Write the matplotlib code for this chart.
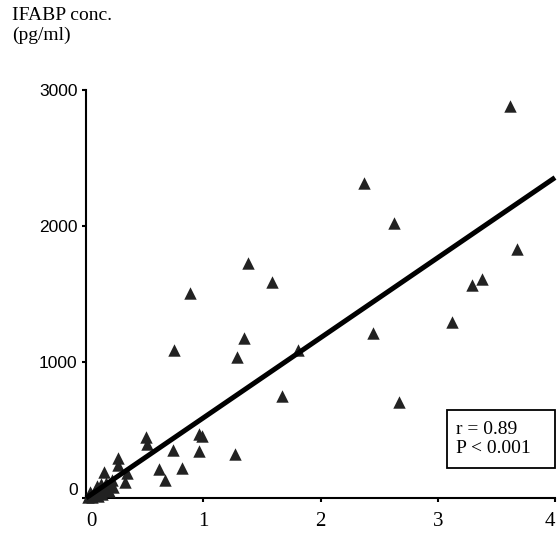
import matplotlib
matplotlib.use("Agg")
import matplotlib.pyplot as plt
from matplotlib.patches import Rectangle
import numpy as np

# ratio values (x) and IFABP concentration (pg/ml, y)
x_vals = [3.62, 2.37, 2.63, 3.68, 3.38, 3.29, 3.12, 2.45, 2.67,
          1.38, 1.585, 0.89, 1.345, 1.29, 1.81, 1.67, 0.75,
          0.96, 0.99, 0.96, 1.27, 0.74, 0.51, 0.52, 0.62, 0.82, 0.67,
          0.27, 0.27, 0.15, 0.35, 0.33, 0.23,
          0.02, 0.04, 0.06, 0.08, 0.10, 0.12, 0.15, 0.18, 0.20, 0.05,
          0.10, 0.14, 0.17, 0.22, 0.03, 0.09, 0.13]
y_vals = [2884, 2318, 2023, 1832, 1611, 1567, 1295, 1216, 704,
          1729, 1589, 1508, 1177, 1037, 1089, 753, 1089,
          470, 455, 348, 324, 353, 450, 400, 213, 221, 132,
          293, 243, 194, 182, 120, 83,
          10, 30, 20, 50, 40, 70, 60, 90, 50, 5,
          15, 30, 110, 130, 45, 85, 100]

# regression line parameters (slope, intercept)
fit_slope = 589.0
fit_intercept = 0.0

x_ticks = [0, 1, 2, 3, 4]
x_tick_labels = ["0", "1", "2", "3", "4"]
y_ticks = [0, 1000, 2000, 3000]
y_tick_labels = ["0", "1000", "2000", "3000"]

stats_text = "r = 0.89\nP < 0.001"
y_title = "IFABP conc.\n(pg/ml)"

fig = plt.figure(figsize=(5.58, 5.35), dpi=100)
ax = fig.add_axes([86/558, 37/535, (555-86)/558, (498-90)/535])

ax.scatter(x_vals, y_vals, marker="^", s=80, color="#222222", linewidths=0,
           clip_on=False, zorder=3)
xl = np.array([0, 4])
ax.plot(xl, fit_slope*xl + fit_intercept, color="black", lw=3.6,
        solid_capstyle="butt", zorder=4, clip_on=False)

ax.set_xlim(0, 4)
ax.set_ylim(0, 3000)
for s in ["top", "right"]:
    ax.spines[s].set_visible(False)
for s in ["left", "bottom"]:
    ax.spines[s].set_linewidth(1.5)
    ax.spines[s].set_color("black")

ax.set_xticks(x_ticks)
ax.set_xticklabels(x_tick_labels, family="Liberation Serif", fontsize=15)
ax.set_yticks(y_ticks)
ax.set_yticklabels(y_tick_labels, family="Liberation Sans", fontsize=12.5)
ax.tick_params(axis="x", direction="out", length=3, width=1.5, pad=7)
ax.tick_params(axis="y", direction="out", length=3, width=1.5, pad=3)
ax.get_yticklabels()[0].set_va("bottom")
xlabs = ax.get_xticklabels()
xlabs[0].set_ha("left")
xlabs[-1].set_ha("right")

fig.text(12/558, 1 - 7/535, y_title, ha="left", va="top",
         family="Liberation Serif", fontsize=14, linespacing=1.2)

box_x0 = (447-86)/469
box_y0 = (498-468)/408
box_w = (555-447)/469
box_h = (468-410)/408
ax.add_patch(Rectangle((box_x0, box_y0), box_w, box_h, transform=ax.transAxes,
                       fc="white", ec="black", lw=1.3, zorder=5, clip_on=False))
ax.text((456-86)/469, (498-439)/408, stats_text, transform=ax.transAxes,
        ha="left", va="center", family="Liberation Serif", fontsize=14,
        linespacing=1.15, zorder=6)

fig.savefig("out.png", dpi=100)
